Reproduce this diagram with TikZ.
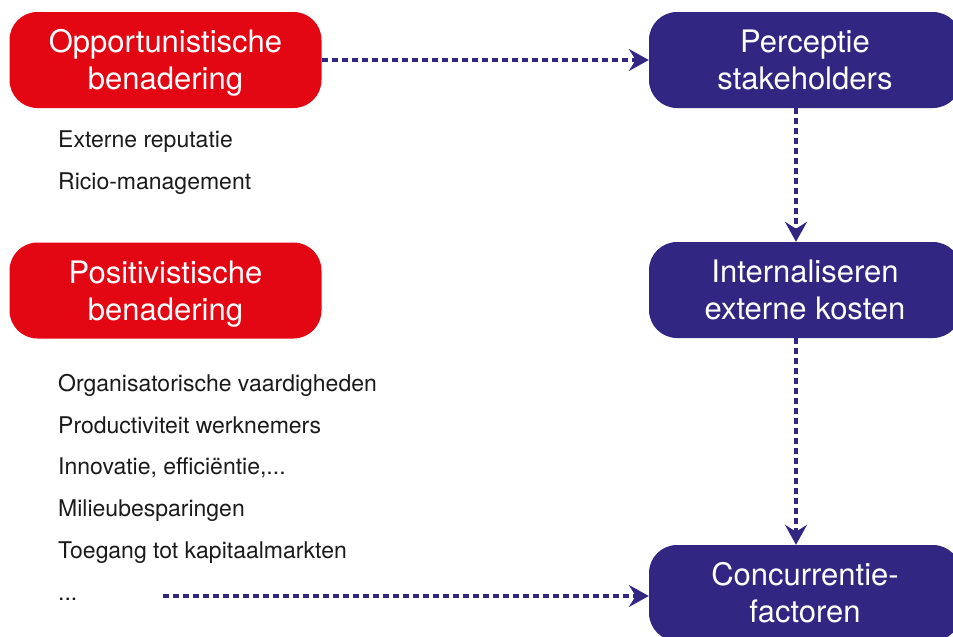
\documentclass[tikz,border=0pt]{standalone}
\usepackage{fontspec}
\setmainfont{TeX Gyre Heros}
\usetikzlibrary{arrows.meta}
\definecolor{cred}{HTML}{E30613}
\definecolor{cblue}{HTML}{312783}
\definecolor{ctext}{HTML}{1A1A1A}
\tikzset{
  box/.style={rounded corners=28pt, minimum width=312pt, minimum height=96pt,
    inner sep=0pt, align=center, text=white, font=\fontsize{31}{37}\selectfont,
    text height=66pt, text depth=6.5pt},
  redbox/.style={box, fill=cred},
  bluebox/.style={box, fill=cblue},
  item/.style={anchor=base west, inner sep=0pt, text=ctext, font=\fontsize{23}{27}\selectfont},
  conn/.style={draw=cblue, line width=3.2pt, dash pattern=on 6pt off 4pt,
    -{Stealth[length=20pt,width=22pt,inset=7pt]}}
}
\begin{document}
\begin{tikzpicture}[x=1pt,y=-1pt]
\useasboundingbox (0,0) rectangle (953,637);
\clip (0,0) rectangle (953,637);
\node[redbox] (opp) at (165.5,60) {Opportunistische\\benadering};
\node[redbox] (pos) at (165.5,290.5) {Positivistische\\benadering};
\node[bluebox] (perc) at (805,60) {Perceptie\\stakeholders};
\node[bluebox] (intern) at (805,290) {Internaliseren\\externe kosten};
\node[bluebox] (conc) at (805,593) {Concurrentie-\\factoren};

\node[item] (i1) at (58,147) {Externe reputatie};
\node[item] (i2) at (58,189) {Ricio-management};
\node[item] (i3) at (58,391) {Organisatorische vaardigheden};
\node[item] (i4) at (58,433) {Productiviteit werknemers};
\node[item] (i5) at (58,474) {Innovatie, efficiëntie,...};
\node[item] (i6) at (58,516) {Milieubesparingen};
\node[item] (i7) at (58,558) {Toegang tot kapitaalmarkten};
\node[item] (i8) at (58,600) {...};

\coordinate (dstart) at (163,596);
\draw[conn] (opp.east) -- (perc.west);
\draw[conn] ([xshift=-9pt]perc.south) -- ([xshift=-9pt]intern.north);
\draw[conn] ([xshift=-9pt]intern.south) -- ([xshift=-9pt]conc.north);
\draw[conn] (dstart) -- (dstart -| conc.west);
\end{tikzpicture}
\end{document}
